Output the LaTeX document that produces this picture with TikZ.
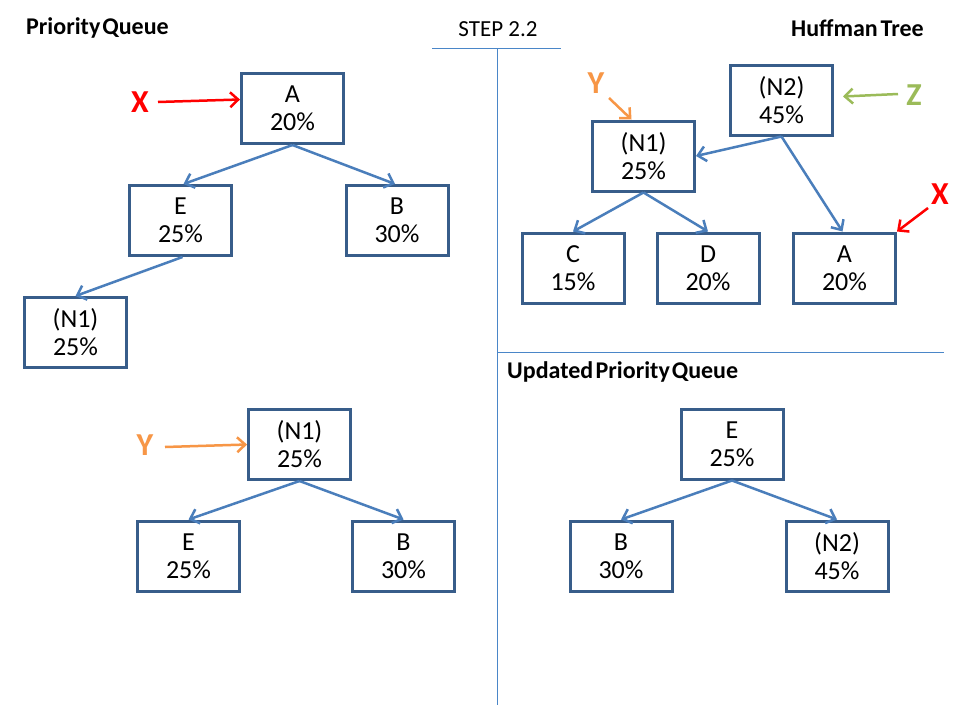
\documentclass[tikz,border=0pt]{standalone}
\usepackage{fontspec}
\setmainfont{Carlito}
\usetikzlibrary{arrows.meta}
\definecolor{boxblue}{HTML}{385D8A}
\definecolor{linkblue}{HTML}{4A7EBB}
\definecolor{rulerblue}{HTML}{4A86C8}
\definecolor{xred}{HTML}{FF0000}
\definecolor{yorange}{HTML}{F79646}
\definecolor{zgreen}{HTML}{9BBB59}
\begin{document}
\begin{tikzpicture}[x=1pt,y=-1pt,
  box/.style={draw=boxblue,line width=3pt,minimum width=102pt,minimum height=70pt,
    inner sep=0pt,align=center,font=\fontsize{26}{28}\selectfont},
  link/.style={draw=linkblue,line width=2.5pt,
    -{Straight Barb[length=8pt,width=15pt,line width=2.5pt]}},
  marker/.style={font=\fontsize{32}{36}\selectfont\bfseries,inner sep=0pt},
  pointer/.style={line width=2.5pt,-{Straight Barb[length=8pt,width=15pt,line width=2.5pt]}},
  title/.style={font=\fontsize{24}{28}\selectfont\bfseries,inner sep=0pt},
  ruler/.style={draw=rulerblue,line width=1pt}]
\fill[white] (0,0) rectangle (960,720);
\useasboundingbox (0,0) rectangle (960,720);

% titles
\node[title,anchor=west] (tpq) at (26,28) {Priority\hspace{0.08em}Queue};
\node[title,anchor=east] (tht) at (924,28) {Huffman\hspace{0.12em}Tree};
\node[font=\fontsize{23}{26}\selectfont,inner sep=0pt] (step) at (498,29) {STEP 2.2};
\node[title,anchor=west] (tupq) at (507,372) {Updated\hspace{0.1em}Priority\hspace{0.08em}Queue};

% rulers
\coordinate (r1) at (432,48);
\coordinate (r2) at (561,48);
\coordinate (r3) at (497,48);
\coordinate (r4) at (497,705);
\coordinate (r5) at (497,352);
\coordinate (r6) at (944,352);
\draw[ruler] (r1) -- (r2);
\draw[ruler] (r3) -- (r4);
\draw[ruler] (r5) -- (r6);

% left top tree
\node[box] (LA) at (292.5,108.5) {A\\20\%};
\node[box] (LE) at (180.5,220.5) {E\\25\%};
\node[box] (LB) at (397,220.5) {B\\30\%};
\node[box] (LN1) at (75.5,332.5) {(N1)\\25\%};
\draw[link] (LA.south) -- ([xshift=3pt]LE.north);
\draw[link] (LA.south) -- ([xshift=-2pt]LB.north);
\draw[link] ([xshift=2pt]LE.south) -- (LN1.north);

% left bottom tree
\node[box] (BN1) at (299.5,444.5) {(N1)\\25\%};
\node[box] (BE) at (188.5,556) {E\\25\%};
\node[box] (BB) at (403.5,556) {B\\30\%};
\draw[link] (BN1.south) -- (BE.north);
\draw[link] (BN1.south) -- (BB.north);

% right top tree
\node[box] (RN2) at (781.5,100) {(N2)\\45\%};
\node[box] (RN1) at (643.5,156) {(N1)\\25\%};
\node[box] (RC) at (573,268) {C\\15\%};
\node[box] (RD) at (708,268) {D\\20\%};
\node[box] (RA) at (844.5,268) {A\\20\%};
\draw[link] (RN2.south) -- (RN1.east);
\draw[link] (RN2.south) -- ([xshift=-2pt]RA.north);
\draw[link] (RN1.south) -- (RC.north);
\draw[link] (RN1.south) -- (RD.north);

% right bottom tree
\node[box] (UE) at (732,444) {E\\25\%};
\node[box] (UB) at (621,556) {B\\30\%};
\node[box] (UN2) at (837,556) {(N2)\\45\%};
\draw[link] (UE.south) -- (UB.north);
\draw[link] (UE.south) -- (UN2.north);

% markers
\node[marker,text=xred] (X1) at (140,102) {X};
\coordinate (x1s) at (158,102);
\draw[pointer,xred] (x1s) -- ([yshift=9pt]LA.west);

\node[marker,text=yorange] (Y1) at (145,445) {Y};
\coordinate (y1s) at (165,447);
\draw[pointer,yorange] (y1s) -- (BN1.west);

\node[marker,text=yorange] (Y2) at (596,83) {Y};
\coordinate (y2s) at (609,98);
\draw[pointer,yorange] (y2s) -- ([xshift=-12pt]RN1.north);

\node[marker,text=zgreen] (Z1) at (914,95) {Z};
\coordinate (z1s) at (898,94);
\coordinate (z1e) at (843,96.5);
\draw[pointer,zgreen] (z1s) -- (z1e);

\node[marker,text=xred] (X2) at (940,194) {X};
\coordinate (x2s) at (928,208);
\draw[pointer,xred] (x2s) -- (RA.north east);
\end{tikzpicture}
\end{document}
